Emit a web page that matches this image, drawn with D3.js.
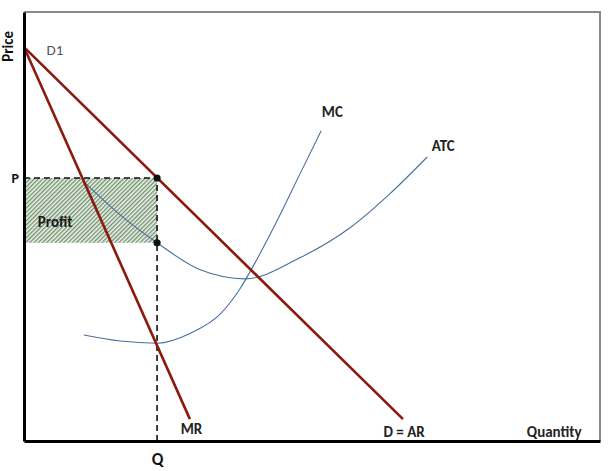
<!DOCTYPE html>
<html><head><meta charset="utf-8">
<script src="https://cdn.jsdelivr.net/npm/d3@7"></script>
<style>
body{margin:0;background:#fff;}
svg text{font-family:Calibri,Carlito,Lato,"Open Sans",sans-serif;}
</style></head>
<body><svg id="c" width="612" height="471"></svg>
<script>
// Data (economic units: quantity 0-10, price 0-10)
const demand = [[0, 9.18], [6.58, 0.51]];
const mr = [[0, 9.18], [2.88, 0.51]];
const mc = [[1.04, 2.47], [1.67, 2.33], [2.31, 2.28], [2.90, 2.52], [3.40, 2.95], [3.75, 3.55], [4.05, 4.25], [4.40, 5.15], [4.80, 6.25], [5.16, 7.23]];
const atc = [[1.04, 6.04], [1.67, 5.27], [2.31, 4.62], [3.06, 3.99], [3.84, 3.78], [4.79, 4.27], [5.66, 4.97], [6.35, 5.76], [7.00, 6.62]];
const qStar = 2.31, pStar = 6.13, atcAtQ = 4.62;
const curveLabels = [
  {t: "D1", x: 0.39, y: 9.0, bold: false},
  {t: "MC", x: 5.17, y: 7.55, bold: true},
  {t: "ATC", x: 7.08, y: 6.75, bold: true},
  {t: "MR", x: 2.72, y: 0.16, bold: true},
  {t: "D = AR", x: 6.24, y: 0.10, bold: true},
  {t: "Quantity", x: 8.73, y: 0.10, bold: true}
];
const xTickLabels = ["Q"], yTickLabels = ["P"];

const svg = d3.select("#c");
const x = d3.scaleLinear().domain([0, 10]).range([24, 600]);
const y = d3.scaleLinear().domain([0, 10]).range([441, 12]);

// hatch pattern
const defs = svg.append("defs");
const pat = defs.append("pattern").attr("id", "hatch").attr("patternUnits", "userSpaceOnUse")
  .attr("width", 3).attr("height", 3).attr("patternTransform", "rotate(45)");
pat.append("rect").attr("width", 3).attr("height", 3).attr("fill", "#eef3ec");
pat.append("line").attr("x1", 0.7).attr("y1", 0).attr("x2", 0.7).attr("y2", 3)
  .attr("stroke", "#6b8c68").attr("stroke-width", 1.3);

// frame top/right
svg.append("path").attr("d", `M${x(0)},${y(10)}H${x(10)}V${y(0)}`)
  .attr("fill", "none").attr("stroke", "#8a8a8a").attr("stroke-width", 2);

// profit rectangle
svg.append("rect").attr("x", x(0)).attr("y", y(pStar))
  .attr("width", x(qStar) - x(0)).attr("height", y(atcAtQ) - y(pStar))
  .attr("fill", "url(#hatch)");
svg.append("text").attr("x", x(0.24)).attr("y", y(5.0)).text("Profit")
  .attr("font-size", 15).attr("font-weight", "bold").attr("fill", "#1a1a1a");

const line = d3.line().x(d => x(d[0])).y(d => y(d[1]));
const smooth = d3.line().x(d => x(d[0])).y(d => y(d[1])).curve(d3.curveMonotoneX);

// cost curves
svg.append("path").datum(atc).attr("d", smooth).attr("fill", "none").attr("stroke", "#4a6f9c").attr("stroke-width", 1.1);
svg.append("path").datum(mc).attr("d", smooth).attr("fill", "none").attr("stroke", "#4a6f9c").attr("stroke-width", 1.1);

// dashed lines
svg.append("path").attr("d", `M${x(0)},${y(pStar)}H${x(qStar)}V${y(0)}`)
  .attr("fill", "none").attr("stroke", "#111").attr("stroke-width", 1.6).attr("stroke-dasharray", "6,4");

// revenue curves
svg.append("path").datum(mr).attr("d", line).attr("fill", "none").attr("stroke", "#8b1a0c").attr("stroke-width", 2.6);
svg.append("path").datum(demand).attr("d", line).attr("fill", "none").attr("stroke", "#8b1a0c").attr("stroke-width", 2.6);

// dots
svg.selectAll("circle.pt").data([[qStar, pStar], [qStar, atcAtQ]]).enter().append("circle")
  .attr("cx", d => x(d[0])).attr("cy", d => y(d[1])).attr("r", 3.6).attr("fill", "#111");

// axes
const xAxis = d3.axisBottom(x).tickValues([qStar]).tickFormat((d, i) => xTickLabels[i]).tickSize(0).tickSizeOuter(0).tickPadding(12);
const yAxis = d3.axisLeft(y).tickValues([pStar]).tickFormat((d, i) => yTickLabels[i]).tickSize(0).tickSizeOuter(0).tickPadding(5);
const gx = svg.append("g").attr("transform", `translate(0,${y(0)})`).call(xAxis);
const gy = svg.append("g").attr("transform", `translate(${x(0)},0)`).call(yAxis);
[gx, gy].forEach(g => {
  g.select(".domain").attr("stroke", "#000").attr("stroke-width", 3);
  g.selectAll("text").attr("font-family", "Calibri,Carlito,Lato,'Open Sans',sans-serif").attr("font-weight", "bold").attr("fill", "#111");
});
gx.selectAll("text").attr("font-size", 17);
gy.selectAll("text").attr("font-size", 14);

// axis titles
svg.append("text").attr("transform", `translate(13,${y(9.2)}) rotate(-90)`).attr("text-anchor", "middle")
  .text("Price").attr("font-size", 15).attr("font-weight", "bold").attr("fill", "#111");

// curve labels
svg.selectAll("text.lab").data(curveLabels).enter().append("text")
  .attr("x", d => x(d.x)).attr("y", d => y(d.y)).text(d => d.t)
  .attr("font-size", 15).attr("font-weight", d => d.bold ? "bold" : "normal")
  .attr("fill", d => d.bold ? "#222" : "#555");
</script></body></html>
